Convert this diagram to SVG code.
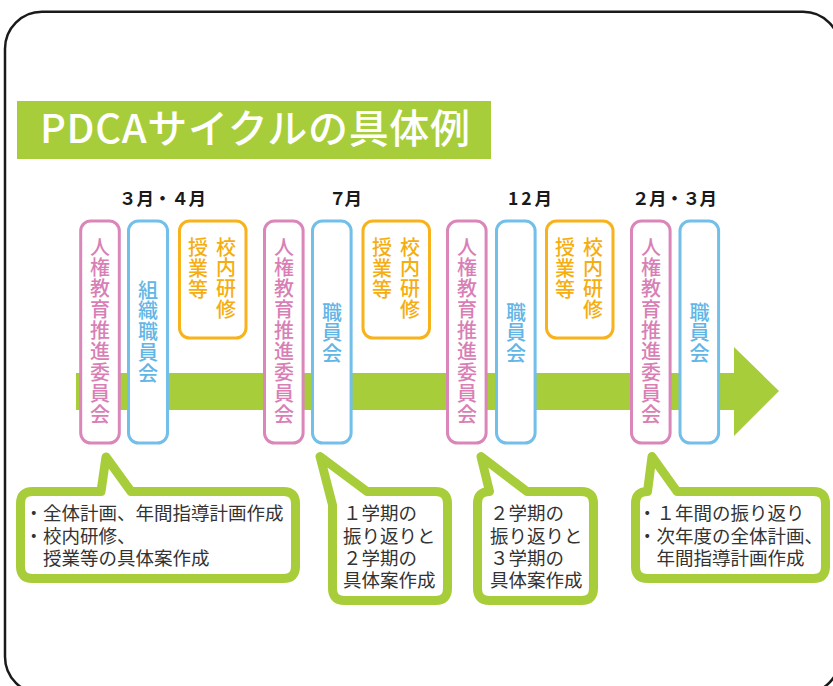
<svg xmlns="http://www.w3.org/2000/svg" width="833" height="686" viewBox="0 0 833 686">
<style>
.frame{fill:#fff;stroke:#1a1a1a;stroke-width:2.5}
.title-bg{fill:#a8cd3a}
.title{font-family:"Noto Sans CJK JP","Noto Sans",sans-serif;font-size:40px;font-weight:500;fill:#fff}
.month{font-family:"Noto Sans CJK JP","Noto Sans",sans-serif;font-size:17.5px;font-weight:700;fill:#1a1a1a}
.bar{fill:#a8cd3a}
.box{fill:#fff;stroke-width:3}
.pink{stroke:#da86b9}
.blue{stroke:#72bfe9}
.orange{stroke:#f7b21c}
.vt{font-family:"Noto Sans CJK JP","Noto Sans",sans-serif;font-size:20px;font-weight:500;writing-mode:vertical-rl;text-orientation:upright;letter-spacing:0.9px}
.tp{fill:#d97fb6}
.tb{fill:#62b6e6}
.to{fill:#f5ad10}
.callout{fill:#fff;stroke:#a8cd3a;stroke-width:9;stroke-linejoin:round}
.ct{font-family:"Liberation Sans","Noto Sans CJK JP",sans-serif;font-size:18.5px;font-weight:400;fill:#333}
</style>
<rect class="frame" x="5" y="11.7" width="835" height="682" rx="37" ry="37"/>
<g id="title">
<rect class="title-bg" x="17" y="101" width="474" height="58"/>
<text class="title" x="40" y="143" textLength="430" lengthAdjust="spacing">PDCAサイクルの具体例</text>
</g>
<g id="months">
<text class="month" x="119" y="205" textLength="87" lengthAdjust="spacing">３月・４月</text>
<text class="month" x="329" y="205" textLength="33" lengthAdjust="spacing">７月</text>
<text class="month" x="508" y="205" textLength="44" lengthAdjust="spacing">12月</text>
<text class="month" x="632" y="205" textLength="85" lengthAdjust="spacing">２月・３月</text>
</g>
<g id="connectors">
<path id="timeline-arrow" class="bar" d="M76 373 H734 V347 L779 391 L734 436 V410 H76 Z"/>
</g>
<g id="n-jinken1"><rect class="box pink" x="80.7" y="221" width="38.6" height="222" rx="10"/><text class="vt tp" x="100" y="237">人権教育推進委員会</text></g>
<g id="n-soshiki"><rect class="box blue" x="128.5" y="221" width="39" height="222" rx="10"/><text class="vt tb" x="148" y="280">組織職員会</text></g>
<g id="n-kennai1"><rect class="box orange" x="179.5" y="221" width="66.5" height="117" rx="10"/><text class="vt to"><tspan x="226" y="237">校内研修</tspan><tspan x="198" y="237">授業等</tspan></text></g>
<g id="n-jinken2"><rect class="box pink" x="264.5" y="221" width="38.6" height="222" rx="10"/><text class="vt tp" x="284" y="237">人権教育推進委員会</text></g>
<g id="n-shokuin2"><rect class="box blue" x="312.5" y="221" width="38.6" height="222" rx="10"/><text class="vt tb" x="332" y="302">職員会</text></g>
<g id="n-kennai2"><rect class="box orange" x="363" y="221" width="66.5" height="117" rx="10"/><text class="vt to"><tspan x="410" y="237">校内研修</tspan><tspan x="382" y="237">授業等</tspan></text></g>
<g id="n-jinken3"><rect class="box pink" x="447.5" y="221" width="38.6" height="222" rx="10"/><text class="vt tp" x="467" y="237">人権教育推進委員会</text></g>
<g id="n-shokuin3"><rect class="box blue" x="496.5" y="221" width="38.6" height="222" rx="10"/><text class="vt tb" x="516" y="302">職員会</text></g>
<g id="n-kennai3"><rect class="box orange" x="546.5" y="221" width="66.5" height="117" rx="10"/><text class="vt to"><tspan x="593" y="237">校内研修</tspan><tspan x="565" y="237">授業等</tspan></text></g>
<g id="n-jinken4"><rect class="box pink" x="631.5" y="221" width="38.6" height="222" rx="10"/><text class="vt tp" x="651" y="237">人権教育推進委員会</text></g>
<g id="n-shokuin4"><rect class="box blue" x="680" y="221" width="38.6" height="222" rx="10"/><text class="vt tb" x="699.5" y="302">職員会</text></g>
<g id="c1">
<path class="callout" d="M32.5 491.5 H101 L106 457 L131 491.5 H283.5 Q295.5 491.5 295.5 503.5 V566.5 Q295.5 578.5 283.5 578.5 H32.5 Q20.5 578.5 20.5 566.5 V503.5 Q20.5 491.5 32.5 491.5 Z"/>
<text class="ct"><tspan x="24.5" y="520">・全体計画、年間指導計画作成</tspan><tspan x="24.5" y="543">・校内研修、</tspan><tspan x="43" y="565">授業等の具体案作成</tspan></text>
</g>
<g id="c2">
<path class="callout" d="M332.5 505 L320 456.5 L367 491.5 H435.5 Q447.5 491.5 447.5 503.5 V588.5 Q447.5 600.5 435.5 600.5 H344.5 Q332.5 600.5 332.5 588.5 Z"/>
<text class="ct"><tspan x="343" y="520">１学期の</tspan><tspan x="343" y="543">振り返りと</tspan><tspan x="343" y="565">２学期の</tspan><tspan x="343" y="587">具体案作成</tspan></text>
</g>
<g id="c3">
<path class="callout" d="M489.5 491.5 L481 456.5 L527 491.5 H581.5 Q593.5 491.5 593.5 503.5 V588.5 Q593.5 600.5 581.5 600.5 H489.5 Q477.5 600.5 477.5 588.5 V503.5 Q477.5 491.5 489.5 491.5 Z"/>
<text class="ct"><tspan x="490" y="520">２学期の</tspan><tspan x="490" y="543">振り返りと</tspan><tspan x="490" y="565">３学期の</tspan><tspan x="490" y="587">具体案作成</tspan></text>
</g>
<g id="c4">
<path class="callout" d="M647.5 491.5 L652 456.5 L677 491.5 H813.5 Q825.5 491.5 825.5 503.5 V566.5 Q825.5 578.5 813.5 578.5 H647.5 Q635.5 578.5 635.5 566.5 V503.5 Q635.5 491.5 647.5 491.5 Z"/>
<text class="ct"><tspan x="638" y="520">・１年間の振り返り</tspan><tspan x="638" y="543">・次年度の全体計画、</tspan><tspan x="656.5" y="565">年間指導計画作成</tspan></text>
</g>
</svg>
